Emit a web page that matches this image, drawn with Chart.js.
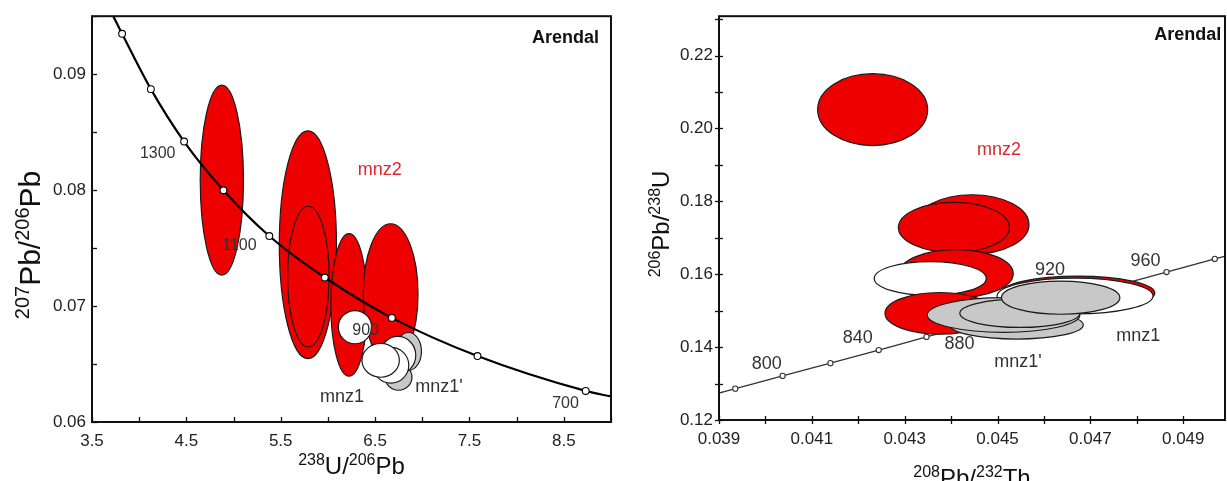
<!DOCTYPE html>
<html lang="en">
<head>
<meta charset="UTF-8">
<title>Arendal monazite concordia</title>
<script src="https://cdn.jsdelivr.net/npm/chart.js@4.4.0/dist/chart.umd.min.js"></script>
<style>
  body { margin: 0; background: #fff; }
  .panel { position: absolute; top: 0; }
</style>
</head>
<body>
<div class="panel" style="left:0"><canvas id="tw" width="620" height="481"></canvas></div>
<div class="panel" style="left:620px"><canvas id="thu" width="607" height="481"></canvas></div>
<script>
// ---- Tera-Wasserburg panel: 238U/206Pb vs 207Pb/206Pb ----
// concordia line, first and last points are where it leaves the frame
const twAge    = [null, 1500, 1400, 1300, 1200, 1100, 1000, 900, 800, 700, null];
const twCurveX = [3.725, 3.819, 4.124, 4.476, 4.893, 5.379, 5.967, 6.678, 7.585, 8.732, 9.0];
const twCurveY = [0.0950, 0.09348, 0.08871, 0.08419, 0.07999, 0.07604, 0.07246, 0.06898, 0.06569, 0.06268, 0.0622];

// error ellipses (centre, half-axes) and the group each belongs to
const twEllX   = [4.876, 5.788, 5.793, 6.224, 6.665, 6.748, 6.854, 6.741, 6.667, 6.559, 6.287];
const twEllY   = [0.08086, 0.07529, 0.07254, 0.07010, 0.07104, 0.06386, 0.06609, 0.06575, 0.06489, 0.06532, 0.06818];
const twEllRx  = [0.229, 0.303, 0.220, 0.193, 0.290, 0.1425, 0.137, 0.190, 0.190, 0.198, 0.176];
const twEllRy  = [0.00819, 0.00982, 0.00607, 0.00615, 0.00606, 0.00112, 0.00163, 0.00163, 0.00154, 0.00146, 0.00143];
const twEllGrp = ['mnz2', 'mnz2', 'mnz2', 'mnz2', 'mnz2', "mnz1'", "mnz1'", 'mnz1', 'mnz1', 'mnz1', 'mnz1'];

const twNoteText = ['1300', '1100', '900', '700', 'mnz2', 'mnz1', "mnz1'", 'Arendal'];
const twNoteKind = ['age', 'age', 'age', 'age', 'red', 'group', 'group', 'site'];
const twNoteX    = [4.196, 5.062, 6.400, 8.518, 6.550, 6.150, 7.178, 8.518];
const twNoteY    = [0.08314, 0.07518, 0.06789, 0.06155, 0.08170, 0.06212, 0.06298, 0.09314];

// ---- Wetherill-type panel: 208Pb/232Th vs 206Pb/238U ----
const thuAge    = [null, 780, 800, 820, 840, 860, 880, 900, 920, 940, 960, 980, null];
const thuCurveX = [0.0390, 0.03935, 0.04037, 0.04140, 0.04244, 0.04347, 0.04450, 0.04553, 0.04657, 0.04761, 0.04864, 0.04968, 0.0500];
const thuCurveY = [0.1274, 0.1286, 0.1321, 0.1356, 0.1392, 0.1428, 0.1463, 0.1498, 0.1534, 0.1570, 0.1606, 0.1642, 0.1653];

const thuEllX   = [0.04231, 0.04445, 0.04406, 0.04411, 0.04355, 0.04376, 0.04673, 0.04667, 0.04541, 0.04513, 0.04548, 0.04636];
const thuEllY   = [0.20516, 0.17364, 0.17282, 0.16016, 0.15885, 0.14927, 0.15485, 0.15403, 0.14608, 0.14881, 0.14927, 0.15357];
const thuEllRx  = [0.001185, 0.001228, 0.001196, 0.001228, 0.001206, 0.001185, 0.001659, 0.00168, 0.001437, 0.001644, 0.001293, 0.001275];
const thuEllRy  = [0.00986, 0.00817, 0.00689, 0.00659, 0.00463, 0.00572, 0.00463, 0.0049, 0.00387, 0.00476, 0.00387, 0.00455];
const thuEllGrp = ['mnz2', 'mnz2', 'mnz2', 'mnz2', 'mnz1', 'mnz2', 'mnz2', 'mnz1', "mnz1'", "mnz1'", "mnz1'", "mnz1'"];

const thuNoteText = ['800', '840', '880', '920', '960', 'mnz2', 'mnz1', "mnz1'", 'Arendal'];
const thuNoteKind = ['age2', 'age2', 'age2', 'age2', 'age2', 'red', 'group', 'group', 'site'];
const thuNoteX    = [0.04003, 0.04199, 0.04418, 0.04613, 0.04819, 0.04503, 0.04803, 0.04544, 0.04910];
const thuNoteY    = [0.13544, 0.14252, 0.14088, 0.16103, 0.16375, 0.19397, 0.14314, 0.13587, 0.22572];

const FONT = "'Liberation Sans', Arial, Helvetica, sans-serif";
Chart.defaults.font.family = FONT;
Chart.defaults.color = '#222';

const groupFill = { 'mnz2': '#ee0000', 'mnz1': '#ffffff', "mnz1'": '#c8c8c8' };
const noteStyle = {
  age:   { font: '16px ' + FONT, color: '#333' },
  age2:  { font: '18px ' + FONT, color: '#333' },
  red:   { font: '18px ' + FONT, color: '#e0262e' },
  group: { font: '18px ' + FONT, color: '#333' },
  site:  { font: 'bold 18px ' + FONT, color: '#111' }
};

function drawEllipses(chart, e) {
  const { ctx, chartArea: a, scales: { x, y } } = chart;
  ctx.save();
  ctx.beginPath();
  ctx.rect(a.left, a.top, a.right - a.left, a.bottom - a.top);
  ctx.clip();
  ctx.lineWidth = 1.2;
  ctx.strokeStyle = '#1a1a1a';
  for (let i = 0; i < e.x.length; i++) {
    const px = x.getPixelForValue(e.x[i]);
    const py = y.getPixelForValue(e.y[i]);
    const rx = Math.abs(x.getPixelForValue(e.x[i] + e.rx[i]) - px);
    const ry = Math.abs(y.getPixelForValue(e.y[i] + e.ry[i]) - py);
    ctx.beginPath();
    ctx.ellipse(px, py, rx, ry, 0, 0, Math.PI * 2);
    ctx.fillStyle = groupFill[e.grp[i]];
    ctx.fill();
    ctx.stroke();
  }
  ctx.restore();
}

function drawNotes(chart, n) {
  const { ctx, scales: { x, y } } = chart;
  ctx.save();
  ctx.textAlign = 'center';
  ctx.textBaseline = 'middle';
  n.text.forEach((t, i) => {
    const s = noteStyle[n.kind[i]];
    ctx.font = s.font;
    ctx.fillStyle = s.color;
    ctx.fillText(t, x.getPixelForValue(n.x[i]), y.getPixelForValue(n.y[i]));
  });
  ctx.restore();
}

// frame round the plot area plus small tick marks
function drawFrame(chart, cfg) {
  const { ctx, chartArea: a, scales: { x, y } } = chart;
  ctx.save();
  ctx.strokeStyle = '#111';
  ctx.lineWidth = 1.3;
  const up = cfg.tickIn, down = cfg.tickOut;
  x.ticks.forEach(t => {
    const px = Math.round(x.getPixelForValue(t.value)) + 0.5;
    ctx.beginPath(); ctx.moveTo(px, a.bottom - up); ctx.lineTo(px, a.bottom + down); ctx.stroke();
  });
  y.ticks.forEach(t => {
    const py = Math.round(y.getPixelForValue(t.value)) + 0.5;
    ctx.beginPath(); ctx.moveTo(a.left - down, py); ctx.lineTo(a.left + up, py); ctx.stroke();
  });
  ctx.lineWidth = 2;
  ctx.strokeRect(a.left, a.top, a.right - a.left, a.bottom - a.top);
  ctx.restore();
}

// axis title with superscript mass numbers: parts alternate [sup, main, sup, main]
function drawTitle(ctx, t, cx, cy, vertical) {
  const MAIN = t.size + 'px ' + FONT, SUP = Math.round(t.size * 0.66) + 'px ' + FONT;
  const rise = Math.round(t.size * 0.38);
  ctx.save();
  ctx.translate(cx, cy);
  if (vertical) ctx.rotate(-Math.PI / 2);
  ctx.textBaseline = 'alphabetic';
  ctx.fillStyle = '#111';
  let w = 0;
  t.parts.forEach((p, i) => { ctx.font = i % 2 ? MAIN : SUP; w += ctx.measureText(p).width; });
  let pos = -w / 2;
  t.parts.forEach((p, i) => {
    ctx.font = i % 2 ? MAIN : SUP;
    ctx.fillText(p, pos, i % 2 ? 0 : -rise);
    pos += ctx.measureText(p).width;
  });
  ctx.restore();
}

function makePanel(id, cfg) {
  const panel = {
    id: 'panel_' + id,
    beforeDatasetsDraw(chart) { if (cfg.ellBehind) drawEllipses(chart, cfg.ell); },
    afterDatasetsDraw(chart) {
      if (!cfg.ellBehind) drawEllipses(chart, cfg.ell);
      drawNotes(chart, cfg.notes);
    },
    afterDraw(chart) {
      const a = chart.chartArea;
      drawFrame(chart, cfg);
      drawTitle(chart.ctx, cfg.xTitle, (a.left + a.right) / 2, cfg.xTitle.at, false);
      drawTitle(chart.ctx, cfg.yTitle, cfg.yTitle.at, cfg.yTitle.mid, true);
    }
  };

  return new Chart(document.getElementById(id), {
    type: 'scatter',
    data: {
      datasets: [{
        data: cfg.curveX.map((v, i) => ({ x: v, y: cfg.curveY[i] })),
        showLine: true,
        borderColor: cfg.lineColor,
        borderWidth: cfg.lineWidth,
        cubicInterpolationMode: 'monotone',
        pointRadius: cfg.age.map(a => a ? cfg.dot : 0),
        pointBackgroundColor: '#fff',
        pointBorderColor: cfg.lineColor,
        pointBorderWidth: 1.1
      }]
    },
    options: {
      responsive: false,
      animation: false,
      devicePixelRatio: 1,
      layout: { padding: cfg.pad },
      plugins: { legend: { display: false }, tooltip: { enabled: false } },
      scales: {
        x: {
          type: 'linear', min: cfg.xMin, max: cfg.xMax,
          grid: { display: false, drawTicks: false }, border: { display: false },
          ticks: {
            stepSize: cfg.xStep, includeBounds: false, autoSkip: false, maxRotation: 0,
            padding: 9, color: '#222', font: { size: 17 }, callback: cfg.xLabel
          },
          afterFit: s => { s.height = cfg.xH; }
        },
        y: {
          type: 'linear', min: cfg.yMin, max: cfg.yMax,
          grid: { display: false, drawTicks: false }, border: { display: false },
          ticks: {
            stepSize: cfg.yStep, includeBounds: false, autoSkip: false,
            padding: 6, color: '#222', font: { size: 17 }, callback: cfg.yLabel
          },
          afterFit: s => { s.width = cfg.yW; }
        }
      }
    },
    plugins: [panel]
  });
}

makePanel('tw', {
  age: twAge, curveX: twCurveX, curveY: twCurveY,
  lineColor: '#000', lineWidth: 2.2, dot: 3.4, ellBehind: true,
  ell: { x: twEllX, y: twEllY, rx: twEllRx, ry: twEllRy, grp: twEllGrp },
  notes: { text: twNoteText, kind: twNoteKind, x: twNoteX, y: twNoteY },
  xMin: 3.5, xMax: 9.0, xStep: 0.5,
  xLabel: v => Math.round(v * 2) % 2 === 1 ? v.toFixed(1) : '',
  yMin: 0.06, yMax: 0.095, yStep: 0.005,
  yLabel: v => Math.round(v * 1000) % 10 === 0 ? v.toFixed(2) : '',
  pad: { top: 14, right: 7, left: 0, bottom: 0 }, xH: 59, yW: 92,
  tickIn: 5, tickOut: 0,
  xTitle: { parts: ['238', 'U/', '206', 'Pb'], size: 24, at: 474 },
  yTitle: { parts: ['207', 'Pb/', '206', 'Pb'], size: 30, at: 40, mid: 245 }
});

makePanel('thu', {
  age: thuAge, curveX: thuCurveX, curveY: thuCurveY,
  lineColor: '#333', lineWidth: 1.3, dot: 2.6, ellBehind: false,
  ell: { x: thuEllX, y: thuEllY, rx: thuEllRx, ry: thuEllRy, grp: thuEllGrp },
  notes: { text: thuNoteText, kind: thuNoteKind, x: thuNoteX, y: thuNoteY },
  xMin: 0.039, xMax: 0.0499, xStep: 0.001,
  xLabel: v => Math.round(v * 1000) % 2 === 1 ? v.toFixed(3) : '',
  yMin: 0.12, yMax: 0.2308, yStep: 0.01,
  yLabel: v => Math.round(v * 100) % 2 === 0 ? v.toFixed(2) : '',
  pad: { top: 13, right: 2, left: 0, bottom: 0 }, xH: 61, yW: 99,
  tickIn: 4, tickOut: 4,
  xTitle: { parts: ['208', 'Pb/', '232', 'Th'], size: 24, at: 486 },
  yTitle: { parts: ['206', 'Pb/', '238', 'U'], size: 24, at: 49, mid: 224 }
});
</script>
</body>
</html>
